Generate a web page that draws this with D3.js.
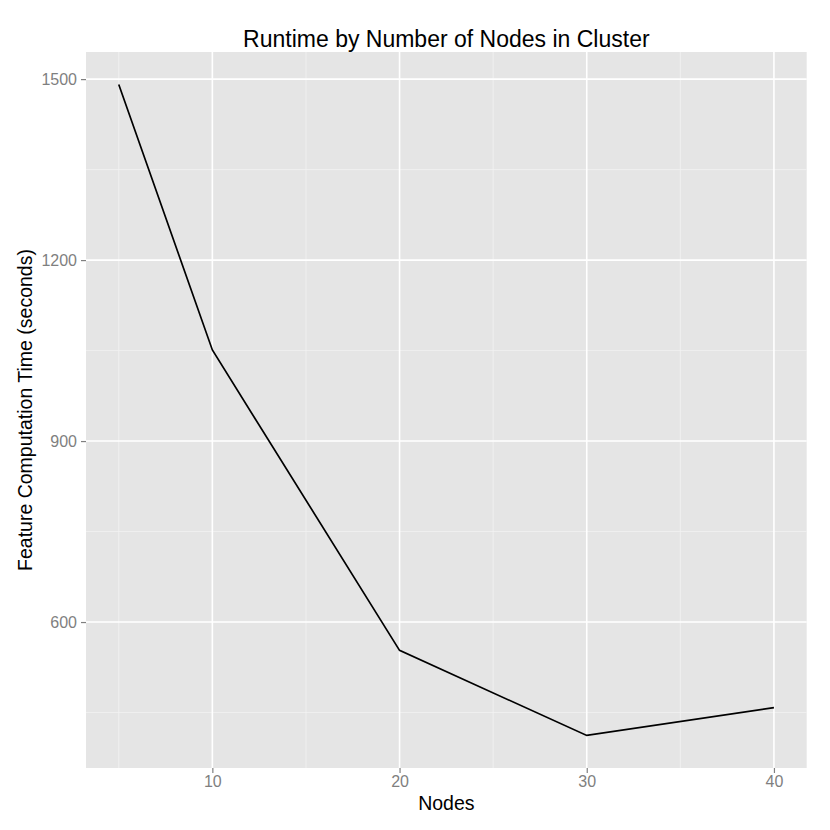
<!DOCTYPE html>
<html>
<head>
<meta charset="utf-8">
<script src="https://cdn.jsdelivr.net/npm/d3@7"></script>
<style>
  body { margin: 0; background: #fff; }
  text { font-family: "Liberation Sans", Arial, sans-serif; }
</style>
</head>
<body>
<div id="container"></div>
<script>
let nodes = [5, 10, 20, 30, 40];
let runtimes = [1491, 1051, 553, 412, 458];
let xTicks = [10, 20, 30, 40];
let xMinor = [5, 15, 25, 35];
let yTicks = [600, 900, 1200, 1500];
let yMinor = [450, 750, 1050, 1350];

let w = 830;
let h = 830;
let padLeft = 86, padRight = 806.7, padTop = 52, padBottom = 768;

let viz = d3.select("#container")
  .append("svg")
  .attr("width", w)
  .attr("height", h);

// ggplot style 5% expansion
let xExt = d3.extent(nodes);
let xPad = (xExt[1] - xExt[0]) * 0.05;
let xScale = d3.scaleLinear().domain([xExt[0] - xPad, xExt[1] + xPad]).range([padLeft, padRight]);
let yExt = d3.extent(runtimes);
let yPad = (yExt[1] - yExt[0]) * 0.05;
let yScale = d3.scaleLinear().domain([yExt[0] - yPad, yExt[1] + yPad]).range([padBottom, padTop]);

viz.append("rect")
  .attr("x", padLeft).attr("y", padTop)
  .attr("width", padRight - padLeft).attr("height", padBottom - padTop)
  .attr("fill", "#e5e5e5");

let grid = viz.append("g");
grid.selectAll(".xminor").data(xMinor).enter().append("line")
  .attr("x1", d => xScale(d)).attr("x2", d => xScale(d))
  .attr("y1", padTop).attr("y2", padBottom)
  .attr("stroke", "#f2f2f2").attr("stroke-width", 0.8);
grid.selectAll(".yminor").data(yMinor).enter().append("line")
  .attr("y1", d => yScale(d)).attr("y2", d => yScale(d))
  .attr("x1", padLeft).attr("x2", padRight)
  .attr("stroke", "#f2f2f2").attr("stroke-width", 0.8);
grid.selectAll(".xmajor").data(xTicks).enter().append("line")
  .attr("x1", d => xScale(d)).attr("x2", d => xScale(d))
  .attr("y1", padTop).attr("y2", padBottom)
  .attr("stroke", "#fff").attr("stroke-width", 1.6);
grid.selectAll(".ymajor").data(yTicks).enter().append("line")
  .attr("y1", d => yScale(d)).attr("y2", d => yScale(d))
  .attr("x1", padLeft).attr("x2", padRight)
  .attr("stroke", "#fff").attr("stroke-width", 1.6);

let line = d3.line()
  .x((d, i) => xScale(nodes[i]))
  .y(d => yScale(d));
viz.append("path")
  .datum(runtimes)
  .attr("d", line)
  .attr("fill", "none")
  .attr("stroke", "#000")
  .attr("stroke-width", 1.7);

let xAxis = d3.axisBottom(xScale).tickValues(xTicks).tickFormat(d3.format("d")).tickSize(5).tickPadding(3);
let xAxisGroup = viz.append("g")
  .attr("transform", "translate(0," + padBottom + ")")
  .call(xAxis);
let yAxis = d3.axisLeft(yScale).tickValues(yTicks).tickFormat(d3.format("d")).tickSize(5).tickPadding(4);
let yAxisGroup = viz.append("g")
  .attr("transform", "translate(" + padLeft + ",0)")
  .call(yAxis);

[xAxisGroup, yAxisGroup].forEach(g => {
  g.select(".domain").remove();
  g.selectAll(".tick line").attr("stroke", "#7f7f7f").attr("stroke-width", 1.2);
  g.selectAll(".tick text")
    .attr("fill", "#7f7f7f")
    .style("font-size", "16px")
    .style("font-family", "'Liberation Sans', Arial, sans-serif");
});

viz.append("text")
  .attr("x", (padLeft + padRight) / 2).attr("y", 47)
  .attr("text-anchor", "middle")
  .style("font-size", "23px")
  .text("Runtime by Number of Nodes in Cluster");

viz.append("text")
  .attr("x", (padLeft + padRight) / 2).attr("y", 810)
  .attr("text-anchor", "middle")
  .style("font-size", "19.5px")
  .text("Nodes");

viz.append("text")
  .attr("transform", "translate(32," + ((padTop + padBottom) / 2) + ") rotate(-90)")
  .attr("text-anchor", "middle")
  .style("font-size", "19.5px")
  .text("Feature Computation Time (seconds)");
</script>
</body>
</html>
